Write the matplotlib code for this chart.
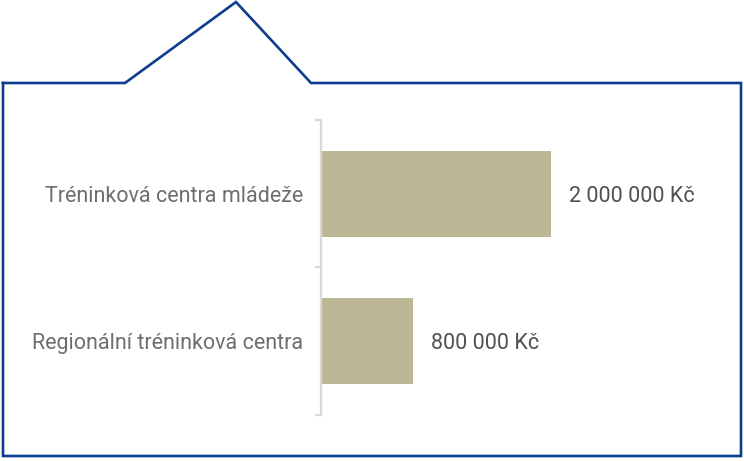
import matplotlib
matplotlib.use("Agg")
import matplotlib.pyplot as plt
from matplotlib.lines import Line2D

categories = ["Tréninková centra mládeže", "Regionální tréninková centra"]
values = [2000000, 800000]
value_labels = ["2 000 000 Kč", "800 000 Kč"]

W, H = 744, 461
fig = plt.figure(figsize=(W / 100, H / 100), dpi=100)
fig.patch.set_facecolor("white")

# House-shaped frame (decoration), in figure pixel coordinates
frame = Line2D([x / W for x in [3, 125, 236, 311, 741, 741, 3, 3]],
               [1 - y / H for y in [83, 83, 2, 83, 83, 456, 456, 83]],
               transform=fig.transFigure, color="#0d3d8f", linewidth=1.9,
               solid_joinstyle="miter")
fig.add_artist(frame)

ax = fig.add_axes([321 / W, 46.5 / H, (700 - 321) / W, (414 - 120) / H])
xmax = 2000000 * (700 - 321) / (551 - 321)
ypos = list(range(len(categories)))
ax.barh(ypos, values, height=0.58, color="#bcb794", left=0)
ax.set_xlim(0, xmax)
ax.set_ylim(len(categories) - 0.5, -0.5)

for s in ["top", "right", "bottom"]:
    ax.spines[s].set_visible(False)
ax.spines["left"].set_color("#d9d9d9")
ax.spines["left"].set_linewidth(1.6)
ax.set_xticks([])
ax.set_yticks([i - 0.5 for i in range(len(categories) + 1)])
ax.set_yticklabels([])
ax.tick_params(axis="y", which="major", length=4, width=1.6, color="#d9d9d9")
ax.set_yticks(ypos, minor=True)
ax.set_yticklabels(categories, minor=True)
ax.tick_params(axis="y", which="minor", length=0, pad=13, labelsize=15.5,
               labelcolor="#6e6e6e")
for lab in ax.get_yticklabels(minor=True):
    lab.set_fontfamily("Roboto")
    lab.set_verticalalignment("center_baseline")

for y, v, t in zip(ypos, values, value_labels):
    ax.annotate(t, (v, y), xytext=(13, 0), textcoords="offset points",
                va="center_baseline", ha="left", fontsize=15.5, color="#505050",
                family="Roboto")
ax.patch.set_alpha(0)

fig.savefig("out.png", dpi=100, facecolor="white")
